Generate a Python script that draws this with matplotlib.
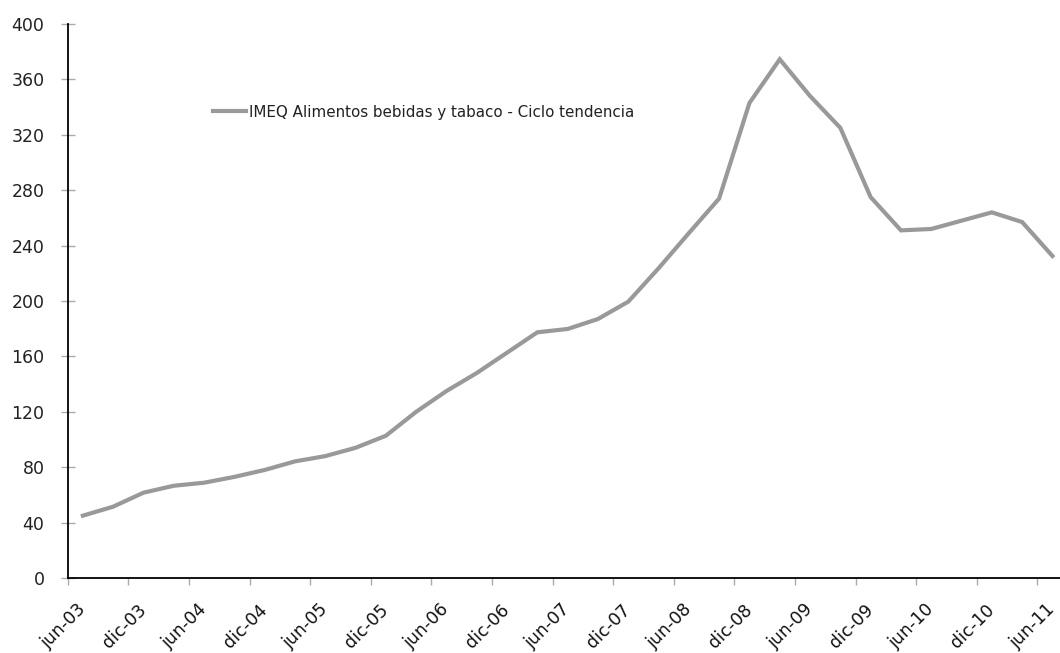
import matplotlib
matplotlib.use("Agg")
import matplotlib.pyplot as plt
import matplotlib.transforms as mtransforms
import numpy as np

# Quarterly trend-cycle values (Q3 2003 .. Q3 2011)
values = [45, 51.5, 61.6, 66.6, 68.8, 73, 78, 84.2, 88, 94,
          102.7, 120, 135, 148, 162.7, 177.4, 179.8, 187, 199.5, 223.6,
          249, 274, 343, 374.5, 348, 325, 275, 251, 252, 258,
          264, 257, 232.5]
tick_labels = ["jun-03", "dic-03", "jun-04", "dic-04", "jun-05", "dic-05",
               "jun-06", "dic-06", "jun-07", "dic-07", "jun-08", "dic-08",
               "jun-09", "dic-09", "jun-10", "dic-10", "jun-11"]
series_name = "IMEQ Alimentos bebidas y tabaco - Ciclo tendencia"
y_ticks = list(range(0, 401, 40))

plt.rcParams['font.family'] = ['DejaVu Sans']

W, H = 1060, 653
fig = plt.figure(figsize=(W / 100, H / 100), dpi=100)
n = len(values)
cat_w = 30.3
left_px, bottom_px, top_px = 67.7, 578, 24
ax = fig.add_axes([left_px / W, (H - bottom_px) / H,
                   n * cat_w / W, (bottom_px - top_px) / H])

x = np.arange(n) + 0.5
ax.plot(x, values, color="#999999", lw=3.0, solid_joinstyle="miter",
        label=series_name)

ax.set_xlim(0, n)
ax.set_ylim(0, 400)
ax.set_yticks(y_ticks)
ax.set_yticklabels([str(v) for v in y_ticks], fontsize=12.5, color="#222222")
ax.set_xticks(np.arange(0, 2 * len(tick_labels), 2))
ax.set_xticklabels(tick_labels, fontsize=12.5, color="#111111")

for spine in ("top", "right"):
    ax.spines[spine].set_visible(False)
for spine in ("left", "bottom"):
    ax.spines[spine].set_linewidth(1.3)
    ax.spines[spine].set_color("black")

ax.tick_params(axis="y", direction="inout", length=9.4, width=1,
               color="#aaaaaa", pad=12)
ax.tick_params(axis="x", direction="out", length=5, width=1,
               color="#aaaaaa", pad=0)

offset = mtransforms.ScaledTranslation(15 / 100, -22 / 100, fig.dpi_scale_trans)
for lab in ax.get_xticklabels():
    lab.set_rotation(45)
    lab.set_rotation_mode("anchor")
    lab.set_ha("right")
    lab.set_va("center")
    lab.set_transform(lab.get_transform() + offset)

leg = ax.legend(loc="center left", bbox_to_anchor=(213 / W, 1 - 112 / H),
                bbox_transform=fig.transFigure, frameon=False,
                fontsize=10.9, handlelength=2.2, handletextpad=0.15,
                borderpad=0, borderaxespad=0)
for t in leg.get_texts():
    t.set_color("#222222")

fig.savefig("out.png", dpi=100)
